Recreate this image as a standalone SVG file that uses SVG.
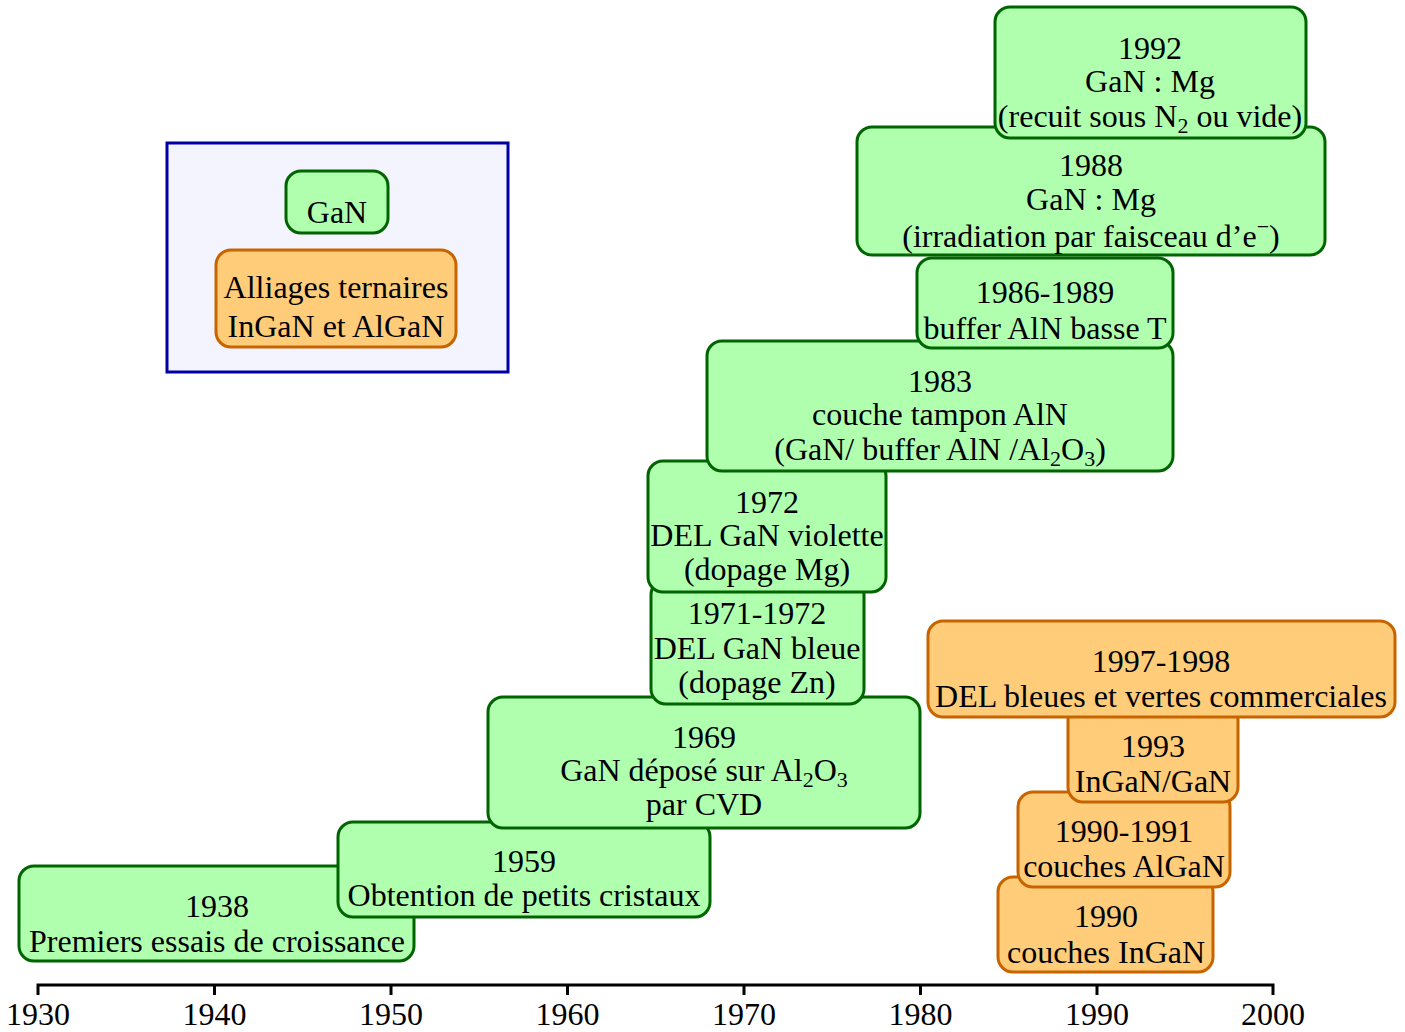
<svg xmlns="http://www.w3.org/2000/svg" width="1405" height="1032" viewBox="0 0 1405 1032">
<style>
text{font-family:"Liberation Serif","Times New Roman",serif;font-size:32px;fill:#000;text-anchor:middle}
.g{fill:#afffaf;stroke:#006400;stroke-width:3}
.o{fill:#ffcc7a;stroke:#c86400;stroke-width:3}
.leg{fill:#f4f4ff;stroke:#0000a0;stroke-width:3}
.ax{stroke:#000;stroke-width:3;fill:none}
.sub{font-size:22px}
</style>
<rect width="1405" height="1032" fill="#fff"/>
<g id="legend">
<rect class="leg" x="167" y="143" width="341" height="229"/>
<g id="legend-gan"><rect class="g" x="286" y="171" width="102" height="62" rx="15"/><text x="337" y="223">GaN</text></g>
<g id="legend-ternary"><rect class="o" x="216" y="250" width="240" height="97" rx="15"/><text x="336" y="298">Alliages ternaires</text><text x="336" y="337">InGaN et AlGaN</text></g>
</g>
<g id="axis">
<path class="ax" d="M38,995V985H1273V995M214.5,985V995M391,985V995M567.5,985V995M744,985V995M920.5,985V995M1097,985V995"/>
<text x="38" y="1025">1930</text><text x="214.5" y="1025">1940</text><text x="391" y="1025">1950</text><text x="567.5" y="1025">1960</text><text x="744" y="1025">1970</text><text x="920.5" y="1025">1980</text><text x="1097" y="1025">1990</text><text x="1273" y="1025">2000</text>
</g>
<g id="connectors"/>
<g id="n1938"><rect class="g" x="19" y="866" width="395" height="95" rx="15"/><text x="217" y="917">1938</text><text x="217" y="952">Premiers essais de croissance</text></g>
<g id="n1959"><rect class="g" x="338" y="822" width="372" height="95" rx="15"/><text x="524" y="872">1959</text><text x="524" y="906">Obtention de petits cristaux</text></g>
<g id="n1969"><rect class="g" x="488" y="697" width="432" height="131" rx="15"/><text x="704" y="748">1969</text><text x="704" y="781">GaN déposé sur Al<tspan class="sub" dy="6">2</tspan><tspan dy="-6">O</tspan><tspan class="sub" dy="6">3</tspan></text><text x="704" y="815">par CVD</text></g>
<g id="n1971"><rect class="g" x="651" y="580" width="213" height="124" rx="15"/><text x="757" y="624">1971-1972</text><text x="757" y="659">DEL GaN bleue</text><text x="757" y="693">(dopage Zn)</text></g>
<g id="n1972"><rect class="g" x="648" y="461" width="238" height="131" rx="15"/><text x="767" y="513">1972</text><text x="767" y="546">DEL GaN violette</text><text x="767" y="580">(dopage Mg)</text></g>
<g id="n1983"><rect class="g" x="707" y="341" width="466" height="130" rx="15"/><text x="940" y="392">1983</text><text x="940" y="425">couche tampon AlN</text><text x="940" y="460">(GaN/ buffer AlN /Al<tspan class="sub" dy="6">2</tspan><tspan dy="-6">O</tspan><tspan class="sub" dy="6">3</tspan><tspan dy="-6">)</tspan></text></g>
<g id="n1986"><rect class="g" x="917" y="258" width="256" height="90" rx="15"/><text x="1045" y="303">1986-1989</text><text x="1045" y="339">buffer AlN basse T</text></g>
<g id="n1988"><rect class="g" x="857" y="127" width="468" height="128" rx="15"/><text x="1091" y="176">1988</text><text x="1091" y="210">GaN : Mg</text><text x="1091" y="247">(irradiation par faisceau d’e<tspan class="sub" dy="-13">−</tspan><tspan dy="13">)</tspan></text></g>
<g id="n1992"><rect class="g" x="995" y="7" width="311" height="131" rx="15"/><text x="1150" y="59">1992</text><text x="1150" y="92">GaN : Mg</text><text x="1150" y="127">(recuit sous N<tspan class="sub" dy="6">2</tspan><tspan dy="-6"> ou vide)</tspan></text></g>
<g id="n1990"><rect class="o" x="998" y="877" width="215" height="95" rx="15"/><text x="1106" y="927">1990</text><text x="1106" y="963">couches InGaN</text></g>
<g id="n1990-91"><rect class="o" x="1018" y="792" width="212" height="95" rx="15"/><text x="1124" y="842">1990-1991</text><text x="1124" y="877">couches AlGaN</text></g>
<g id="n1993"><rect class="o" x="1068" y="705" width="170" height="97" rx="15"/><text x="1153" y="757">1993</text><text x="1153" y="792">InGaN/GaN</text></g>
<g id="n1997"><rect class="o" x="928" y="621" width="467" height="96" rx="15"/><text x="1161" y="672">1997-1998</text><text x="1161" y="707">DEL bleues et vertes commerciales</text></g>
</svg>
